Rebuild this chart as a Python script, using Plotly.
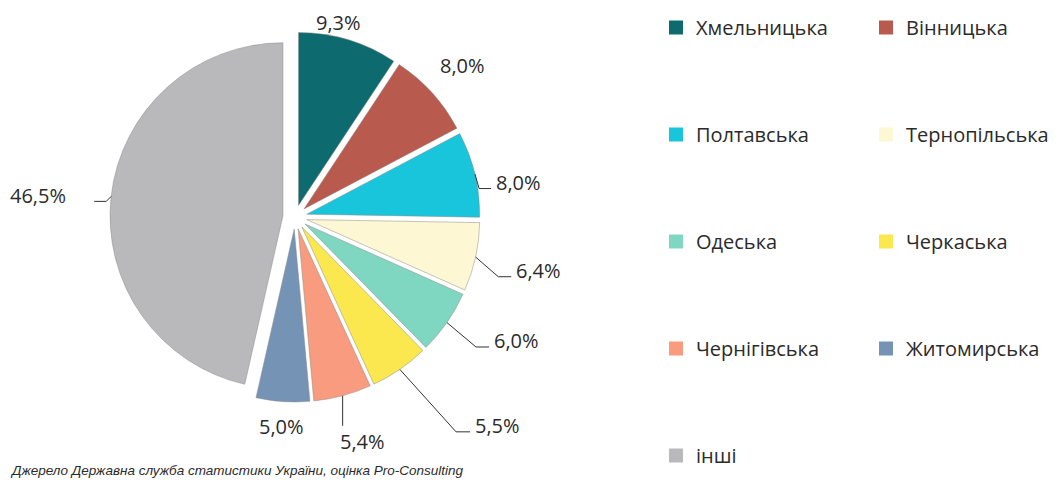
import math
import plotly.graph_objects as go

# ---- data ----
regions = ["Хмельницька", "Вінницька", "Полтавська", "Тернопільська", "Одеська",
           "Черкаська", "Чернігівська", "Житомирська", "інші"]
shares = [9.3, 8.0, 8.0, 6.4, 6.0, 5.5, 5.4, 5.0, 46.5]
share_labels = ["9,3%", "8,0%", "8,0%", "6,4%", "6,0%", "5,5%", "5,4%", "5,0%", "46,5%"]
legend_col1 = ["Хмельницька", "Полтавська", "Одеська", "Чернігівська", "інші"]
legend_col2 = ["Вінницька", "Тернопільська", "Черкаська", "Житомирська"]
source_text = "Джерело Державна служба статистики України, оцінка Pro-Consulting"

# ---- style ----
colors = ["#0d6a6e", "#b85b4e", "#19c5da", "#fdf8d3", "#7fd6c1",
          "#fbe84f", "#f99b7e", "#7593b4", "#b9b9bc"]
color_of = dict(zip(regions, colors))
W, H = 1057, 484
OFF = 8  # page body margin
PULL = 0.07
DOM_PX = (110, 480, 32, 402)  # left, right, top, bottom in px
# label style: (mode, leader length, leader angle below horizontal / angular tweak,
#               tail, text gap / label dist)
label_style = [("free", 0, -4, 0, 199), ("free", 0, 0, 0, 226),
               ("side", 15, 74, 12, 3), ("side", 30, 41, 13, 3),
               ("side", 38, 40, 13, 3), ("side", 84, 48, 14, 3),
               ("down", 30, 90, 0, 16), ("free", 0, 0, 0, 210),
               ("side", 7, 45, 12, 26)]
FONT = "Open Sans, Noto Sans, sans-serif"
TXT = "#2b2b2b"


def px(x):
    return (x - OFF) / W


def py(y):
    return 1 - (y - OFF) / H


fig = go.Figure()
fig.add_trace(go.Pie(
    labels=regions, values=shares, sort=False, direction="clockwise", rotation=0,
    marker=dict(colors=colors, line=dict(color="rgba(140,140,140,0.5)", width=1)),
    pull=PULL, textinfo="none", hoverinfo="label+percent", showlegend=False,
    domain=dict(x=[px(DOM_PX[0]), px(DOM_PX[1])], y=[py(DOM_PX[3]), py(DOM_PX[2])]),
))

cx = (DOM_PX[0] + DOM_PX[1]) / 2
cy = (DOM_PX[2] + DOM_PX[3]) / 2
r = min(DOM_PX[1] - DOM_PX[0], DOM_PX[3] - DOM_PX[2]) / 2 / (1 + PULL)
edge = r * (1 + PULL)
total = sum(shares)

annotations = []
shapes = []
cum = 0.0
for v, lab, (mode, lead, ang, tail, gap) in zip(shares, share_labels, label_style):
    mid = (cum + v / 2) / total * 2 * math.pi
    cum += v
    if mode == "free":
        t = mid + math.radians(ang)
        annotations.append(dict(x=px(cx + math.sin(t) * gap), y=py(cy - math.cos(t) * gap),
                                text=lab, xref="paper", yref="paper", showarrow=False,
                                xanchor="center", yanchor="middle"))
        continue
    ux, uy = math.sin(mid), -math.cos(mid)
    x0, y0 = cx + ux * edge, cy + uy * edge
    sgn = 1 if ux >= 0 else -1
    a = math.radians(ang)
    x1, y1 = x0 + sgn * lead * math.cos(a), y0 + lead * math.sin(a)
    if mode == "side":
        x2 = x1 + sgn * tail
        path = f"M{px(x0)},{py(y0)} L{px(x1)},{py(y1)} L{px(x2)},{py(y1)}"
        annotations.append(dict(x=px(x2 + sgn * gap), y=py(y1 - 6), text=lab, xref="paper",
                                yref="paper", showarrow=False,
                                xanchor="left" if sgn > 0 else "right", yanchor="middle"))
    else:
        path = f"M{px(x0)},{py(y0)} L{px(x1)},{py(y1)}"
        annotations.append(dict(x=px(x1 + 20), y=py(y1 + gap), text=lab,
                                xref="paper", yref="paper", showarrow=False,
                                xanchor="center", yanchor="middle"))
    shapes.append(dict(type="path", path=path, xref="paper", yref="paper",
                       line=dict(color="#333333", width=1)))

annotations.append(dict(x=px(8), y=py(470), text=f"<i>{source_text}</i>", xref="paper",
                        yref="paper", showarrow=False, xanchor="left", yanchor="middle",
                        font=dict(family="Liberation Sans Narrow, Arial Narrow, sans-serif",
                                  size=13.5, color=TXT)))

# legend entries via dummy traces (two columns)
for legname, col in (("legend", legend_col1), ("legend2", legend_col2)):
    for name in col:
        fig.add_trace(go.Scatter(
            x=[None], y=[None], mode="markers", name=name, legend=legname,
            legendgroup=name,
            marker=dict(symbol="square", size=14, color=color_of[name]),
            hoverinfo="skip"))

legend_common = dict(orientation="v", xanchor="left", yanchor="top", tracegroupgap=78,
                     font=dict(family=FONT, size=20, color=TXT), bgcolor="rgba(0,0,0,0)",
                     itemclick=False, itemdoubleclick=False)
fig.update_layout(
    width=W, height=H, autosize=False,
    margin=dict(l=0, r=0, t=0, b=0),
    paper_bgcolor="white", plot_bgcolor="white",
    font=dict(family=FONT, size=20, color=TXT),
    annotations=annotations, shapes=shapes,
    xaxis=dict(visible=False), yaxis=dict(visible=False),
    legend=dict(x=px(656), y=1, **legend_common),
    legend2=dict(x=px(866), y=1, **legend_common),
)

fig.write_html("out.html")
